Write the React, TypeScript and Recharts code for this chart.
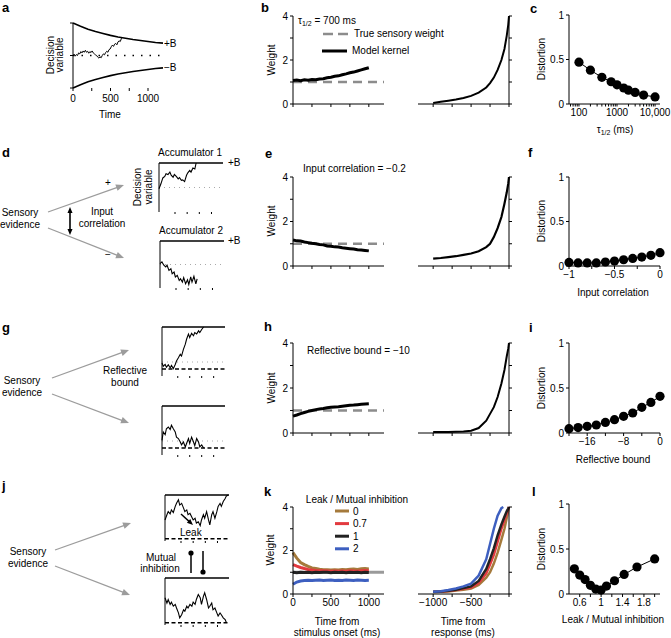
import React from 'react';
import { LineChart, Line, XAxis, YAxis, ReferenceLine } from 'recharts';

const FONT = '"Liberation Sans", Arial, Helvetica, sans-serif';
const FS = 10;

// ---------- Panel a ----------
const aTime = [0, 15, 30, 45, 60, 75, 90, 105, 120, 135, 150, 165, 180, 195, 210, 225, 240, 255, 270, 285, 300, 315, 330, 345, 360, 375, 390, 405, 420, 435, 450, 465, 480, 495, 510, 525, 540, 555, 570, 585, 600, 615, 630, 645, 655];
const aDV = [0, 0.04, -0.02, 0.03, 0.0, 0.08, 0.05, 0.12, 0.08, 0.14, 0.1, 0.16, 0.1, 0.13, 0.07, 0.12, 0.09, 0.14, 0.08, 0.05, 0.02, 0.0, -0.05, -0.08, -0.04, -0.07, 0.0, 0.05, 0.02, 0.09, 0.13, 0.1, 0.18, 0.2, 0.27, 0.32, 0.28, 0.35, 0.37, 0.33, 0.42, 0.45, 0.43, 0.52, 0.55];
const boundTime = [0, 100, 200, 300, 400, 500, 600, 700, 800, 900, 1000, 1100, 1200];
const boundUpper = [1, 0.9, 0.81, 0.74, 0.68, 0.62, 0.57, 0.53, 0.49, 0.46, 0.43, 0.4, 0.38];
const boundLower = [-1, -0.9, -0.81, -0.74, -0.68, -0.62, -0.57, -0.53, -0.49, -0.46, -0.43, -0.4, -0.38];

// ---------- Kernels (b, e, h, k) ----------
const stimT = [0, 50, 100, 150, 200, 250, 300, 350, 400, 450, 500, 550, 600, 650, 700, 750, 800, 850, 900, 950, 1000];
const respT = [-1000, -900, -800, -700, -600, -500, -400, -300, -250, -200, -150, -100, -60, -30, -10, 0];

const bStim = [1.07, 1.09, 1.06, 1.1, 1.08, 1.11, 1.1, 1.14, 1.15, 1.19, 1.22, 1.26, 1.28, 1.33, 1.37, 1.42, 1.45, 1.5, 1.55, 1.6, 1.65];
const bResp = [0.05, 0.1, 0.15, 0.2, 0.27, 0.37, 0.52, 0.75, 0.95, 1.2, 1.55, 2.0, 2.5, 3.1, 3.6, 4.0];

const eStim = [1.17, 1.13, 1.12, 1.08, 1.05, 1.02, 1.0, 0.97, 0.95, 0.9, 0.89, 0.86, 0.85, 0.82, 0.8, 0.78, 0.76, 0.73, 0.72, 0.7, 0.68];
const eResp = [0.33, 0.36, 0.4, 0.44, 0.5, 0.56, 0.66, 0.85, 1.0, 1.3, 1.7, 2.2, 2.8, 3.3, 3.7, 4.0];

const hStim = [0.75, 0.8, 0.86, 0.91, 0.96, 1.0, 1.04, 1.07, 1.09, 1.12, 1.14, 1.16, 1.17, 1.19, 1.21, 1.23, 1.24, 1.26, 1.28, 1.29, 1.3];
const hResp = [0.05, 0.05, 0.05, 0.06, 0.07, 0.1, 0.22, 0.55, 0.85, 1.15, 1.6, 2.2, 2.8, 3.4, 3.75, 4.0];

const leakLevels = ['0', '0.7', '1', '2'];
const leakColors = ['#a57a3c', '#e23a3f', '#222222', '#3d5fc0'];
const kStim0 = [1.9, 1.65, 1.45, 1.35, 1.27, 1.2, 1.17, 1.14, 1.12, 1.11, 1.1, 1.12, 1.1, 1.13, 1.12, 1.14, 1.15, 1.13, 1.16, 1.17, 1.15];
const kStim07 = [1.35, 1.28, 1.22, 1.17, 1.13, 1.1, 1.08, 1.07, 1.07, 1.06, 1.05, 1.06, 1.05, 1.06, 1.05, 1.07, 1.06, 1.05, 1.07, 1.08, 1.07];
const kStim1 = [1.0, 0.98, 1.0, 0.99, 1.0, 0.98, 1.0, 0.99, 1.0, 1.0, 0.98, 1.0, 0.99, 1.0, 0.98, 1.0, 0.99, 1.0, 0.98, 1.0, 0.99];
const kStim2 = [0.45, 0.55, 0.6, 0.62, 0.63, 0.62, 0.63, 0.64, 0.62, 0.63, 0.64, 0.62, 0.63, 0.62, 0.64, 0.63, 0.62, 0.64, 0.63, 0.62, 0.63];
const kResp0 = [0.08, 0.1, 0.12, 0.16, 0.2, 0.25, 0.42, 0.75, 1.0, 1.4, 1.9, 2.5, 3.0, 3.5, 3.85, 4.0];
const kResp07 = [0.1, 0.11, 0.14, 0.18, 0.24, 0.3, 0.5, 0.95, 1.35, 1.8, 2.4, 3.0, 3.4, 3.7, 3.9, 4.0];
const kResp1 = [0.1, 0.12, 0.15, 0.2, 0.27, 0.35, 0.6, 1.15, 1.6, 2.1, 2.7, 3.2, 3.55, 3.8, 3.93, 4.0];
const kRespT2 = [-1000, -900, -800, -700, -600, -500, -400, -300, -250, -200, -150, -100, -75];
const kResp2 = [0.1, 0.13, 0.18, 0.25, 0.35, 0.48, 0.85, 1.6, 2.3, 3.0, 3.6, 3.95, 4.0];

// ---------- Distortion panels ----------
const tauX = [100, 200, 400, 700, 1000, 1500, 2000, 3000, 5000, 10000];
const cDist = [0.47, 0.38, 0.3, 0.25, 0.215, 0.18, 0.155, 0.13, 0.1, 0.08];
const corrX = [-1, -0.9, -0.8, -0.7, -0.6, -0.5, -0.4, -0.3, -0.2, -0.1, 0];
const fDist = [0.04, 0.035, 0.035, 0.035, 0.045, 0.055, 0.07, 0.085, 0.1, 0.12, 0.15];
const reflX = [-20, -18, -16, -14, -12, -10, -8, -6, -4, -2, 0];
const iDist = [0.048, 0.06, 0.074, 0.089, 0.118, 0.148, 0.185, 0.222, 0.285, 0.34, 0.407];
const leakX = [0.5, 0.6, 0.7, 0.8, 0.9, 1, 1.1, 1.25, 1.43, 1.67, 2];
const lDist = [0.28, 0.21, 0.16, 0.096, 0.055, 0.044, 0.088, 0.147, 0.217, 0.3, 0.39];

// ---------- Schematic traces ----------
const dU = [0, 3, 6, 9, 11, 14, 17, 19, 22, 24, 27, 30, 32, 35, 37, 40, 43, 45, 48, 50, 53, 56, 58];
const d1Y = [-0.05, 0.15, 0.39, 0.45, 0.56, 0.53, 0.63, 0.5, 0.42, 0.53, 0.45, 0.35, 0.4, 0.29, 0.31, 0.24, 0.5, 0.6, 0.7, 0.63, 0.8, 0.76, 1.0];
const d2Y = [0.04, 0.11, -0.03, -0.1, -0.03, -0.25, -0.18, -0.39, -0.32, -0.53, -0.46, -0.68, -0.61, -0.75, -0.56, -0.82, -0.65, -0.85, -0.53, -0.75, -0.5, -0.82, -0.61];
const gU = [0, 2, 5, 7, 10, 13, 15, 18, 21, 23, 26, 29, 31, 34, 37, 39, 42, 44, 47, 50, 52, 55, 58, 60, 63, 66];
const g1Y = [-0.03, -0.12, -0.07, -0.15, -0.08, -0.17, -0.1, -0.19, -0.07, 0.03, 0.12, 0.22, 0.17, 0.36, 0.51, 0.65, 0.8, 0.7, 0.82, 0.75, 0.84, 0.8, 0.89, 0.84, 0.93, 1.0];
const g2Y = [0.02, 0.26, 0.18, 0.35, 0.4, 0.33, 0.45, 0.35, 0.26, 0.11, 0.07, -0.03, -0.11, -0.03, -0.17, -0.07, 0.07, -0.07, 0.11, -0.03, -0.13, 0.07, -0.03, -0.17, -0.11, -0.2];
const jU = [0, 3, 5, 8, 10, 13, 16, 18, 21, 23, 26, 29, 31, 34, 36, 39, 42, 44, 47, 49, 52, 55, 57, 60, 62, 65, 68, 70, 73, 75, 78, 81, 83, 86, 88, 91, 94, 96, 99];
const j1Y = [0.43, 0.55, 0.62, 0.57, 0.66, 0.6, 0.74, 0.81, 0.89, 0.77, 0.81, 0.7, 0.62, 0.66, 0.55, 0.58, 0.49, 0.43, 0.47, 0.36, 0.39, 0.3, 0.43, 0.55, 0.47, 0.62, 0.43, 0.32, 0.55, 0.62, 0.47, 0.62, 0.74, 0.81, 0.74, 0.85, 0.92, 0.98, 1.0];
const j2Y = [0.56, 0.44, 0.52, 0.41, 0.46, 0.37, 0.41, 0.33, 0.22, 0.11, 0.18, 0.29, 0.26, 0.37, 0.33, 0.41, 0.37, 0.46, 0.41, 0.52, 0.63, 0.56, 0.41, 0.59, 0.67, 0.52, 0.33, 0.37, 0.44, 0.29, 0.33, 0.22, 0.15, 0.22, 0.18, 0.11, 0.07, 0.0];

// ---------- helpers ----------
const pts = (xs: number[], ys: number[]) => xs.map((x, i) => ({ x, y: ys[i] }));
const ax = { stroke: '#000', strokeWidth: 1 };
const tk = { fontSize: FS, fill: '#000', fontFamily: FONT };
const blank = () => '';
const near = (a: number, b: number) => Math.abs(a - b) < 1e-6;

type R = { x0: number; y0: number; x1: number; y1: number };

function Plot({ r, l = 0, rt = 0, b = 0, ml = 0, mr = 0, mt = 6, mb = 0, children }: any) {
  const width = r.x1 - r.x0 + l + rt + ml + mr;
  const height = r.y1 - r.y0 + mt + b + mb;
  return (
    <div style={{ position: 'absolute', left: r.x0 - l - ml, top: r.y0 - mt }}>
      <LineChart width={width} height={height} margin={{ top: mt, right: mr, bottom: mb, left: ml }}>
        {children}
      </LineChart>
    </div>
  );
}

function kernelLeft(r: R, series: { ys: number[]; color: string; w: number }[], labels: boolean, ref: 'dash' | 'solid') {
  return (
    <Plot r={r} l={22} b={labels ? 16 : 4} mb={labels ? 0 : 6} mr={4}>
      <XAxis type="number" dataKey="x" domain={[0, 1200]} ticks={[0, 250, 500, 750, 1000]} interval={0} tickSize={3}
        tickLine={ax} axisLine={ax} tick={tk} height={labels ? 16 : 4}
        tickFormatter={labels ? (v: number) => (v % 500 === 0 ? String(v) : '') : blank} />
      <YAxis type="number" domain={[0, 4]} ticks={[0, 1, 2, 3, 4]} interval={0} tickSize={3} tickLine={ax} axisLine={ax}
        tick={tk} width={22} tickFormatter={(v: number) => (v % 2 === 0 ? String(v) : '')} />
      {ref === 'dash' ? (
        <ReferenceLine y={1} stroke="#8c8c8c" strokeWidth={2.5} strokeDasharray="9 6" />
      ) : (
        <ReferenceLine y={1} stroke="#9a9a9a" strokeWidth={3} />
      )}
      {series.map((s, i) => (
        <Line key={i} data={pts(stimT, s.ys)} dataKey="y" stroke={s.color} strokeWidth={s.w} dot={false} isAnimationActive={false} />
      ))}
    </Plot>
  );
}

function kernelRight(r: R, series: { xs: number[]; ys: number[]; color: string; w: number }[], labels: boolean) {
  return (
    <Plot r={r} rt={5} b={labels ? 16 : 4} mb={labels ? 0 : 6} ml={6}>
      <XAxis type="number" dataKey="x" domain={[-1200, 0]} ticks={[-1000, -750, -500, -250, 0]} interval={0} tickSize={3}
        tickLine={ax} axisLine={ax} tick={tk} height={labels ? 16 : 4}
        tickFormatter={labels ? (v: number) => (v === -1000 ? '\u22121000' : v === -500 ? '\u2212500' : '') : blank} />
      <YAxis type="number" orientation="right" domain={[0, 4]} ticks={[0, 1, 2, 3, 4]} interval={0} tickSize={3}
        tickLine={ax} axisLine={ax} tick={tk} width={5} tickFormatter={blank} />
      {series.map((s, i) => (
        <Line key={i} data={pts(s.xs, s.ys)} dataKey="y" stroke={s.color} strokeWidth={s.w} dot={false} isAnimationActive={false} />
      ))}
    </Plot>
  );
}

function distortion(r: R, xs: number[], ys: number[], xAxis: any) {
  return (
    <Plot r={r} l={22} b={16} mr={11}>
      {xAxis}
      <YAxis type="number" domain={[0, 1]} ticks={[0, 0.5, 1]} interval={0} tickSize={3} tickLine={ax} axisLine={ax}
        tick={tk} width={22} tickFormatter={(v: number) => String(v)} />
      <Line data={pts(xs, ys)} dataKey="y" stroke="#000" strokeWidth={1} isAnimationActive={false}
        dot={{ r: 4.6, fill: '#000', stroke: '#000', strokeWidth: 0 }} />
    </Plot>
  );
}

function mini(r: R, yDomain: number[], xs: number[], ys: number[], opts: { mid?: number; low?: number }) {
  return (
    <Plot r={r} l={1} b={3} mr={2} mt={2}>
      <XAxis type="number" dataKey="x" domain={[0, 100]} ticks={[25, 44, 63, 82]} interval={0} axisLine={false}
        tickSize={2} tickLine={ax} tickFormatter={blank} height={3} />
      <YAxis type="number" domain={yDomain} axisLine={ax} tick={false} tickLine={false} width={1} />
      <ReferenceLine y={1} stroke="#000" strokeWidth={1.7} />
      {opts.mid !== undefined && <ReferenceLine y={opts.mid} stroke="#aaa" strokeWidth={1} strokeDasharray="1 4" />}
      {opts.low !== undefined && <ReferenceLine y={opts.low} stroke="#000" strokeWidth={1.6} strokeDasharray="4 2.5" />}
      <Line data={pts(xs, ys)} dataKey="y" stroke="#000" strokeWidth={1.1} dot={false} isAnimationActive={false} />
    </Plot>
  );
}

function Arrow({ x1, y1, x2, y2, color = '#9c9c9c', w = 1.3, head = 8, both = false }: any) {
  const a = Math.atan2(y2 - y1, x2 - x1);
  const hw = head * 0.42;
  const tri = (x: number, y: number, ang: number) => {
    const bx = x - head * Math.cos(ang);
    const by = y - head * Math.sin(ang);
    return `${x},${y} ${bx + hw * Math.sin(ang)},${by - hw * Math.cos(ang)} ${bx - hw * Math.sin(ang)},${by + hw * Math.cos(ang)}`;
  };
  const sx = both ? x1 + (head - 1) * Math.cos(a) : x1;
  const sy = both ? y1 + (head - 1) * Math.sin(a) : y1;
  const ex = x2 - (head - 1) * Math.cos(a);
  const ey = y2 - (head - 1) * Math.sin(a);
  return (
    <g>
      <line x1={sx} y1={sy} x2={ex} y2={ey} stroke={color} strokeWidth={w} />
      <polygon points={tri(x2, y2, a)} fill={color} />
      {both && <polygon points={tri(x1, y1, a + Math.PI)} fill={color} />}
    </g>
  );
}

function T({ x, y, children, anchor = 'start', size = FS, bold = false }: any) {
  return (
    <text x={x} y={y} textAnchor={anchor} fontSize={size} fontWeight={bold ? 700 : 400} fontFamily={FONT} fill="#000">
      {children}
    </text>
  );
}
function RT({ x, y, children, size = FS }: any) {
  return (
    <text transform={`translate(${x},${y}) rotate(-90)`} textAnchor="middle" fontSize={size} fontFamily={FONT} fill="#000">
      {children}
    </text>
  );
}

export default function App() {
  const A: R = { x0: 73, y0: 23, x1: 163, y1: 88 };
  const colL = (y0: number, y1: number): R => ({ x0: 293, y0, x1: 384, y1 });
  const colR = (y0: number, y1: number): R => ({ x0: 418, y0, x1: 509, y1 });
  const col3 = (y0: number, y1: number): R => ({ x0: 569, y0, x1: 660, y1 });

  const cTicks = [60, 70, 80, 90, 100, 200, 300, 400, 500, 600, 700, 800, 900, 1000, 2000, 3000, 4000, 5000, 6000, 7000, 8000, 9000, 10000];

  return (
    <div style={{ position: 'absolute', left: 0, top: 0, width: 671, height: 638, background: '#fff', overflow: 'hidden', fontFamily: FONT }}>
      {/* Panel a */}
      <Plot r={A} l={4} b={16} mr={4}>
        <XAxis type="number" dataKey="x" domain={[0, 1200]} ticks={[0, 250, 500, 750, 1000]} interval={0} axisLine={false}
          tickSize={3} tickMargin={4} tickLine={ax} tick={tk} height={16}
          tickFormatter={(v: number) => (v % 500 === 0 ? String(v) : '')} />
        <YAxis type="number" domain={[-1, 1]} ticks={[-1, 0, 1]} interval={0} tickSize={3} tickLine={ax} axisLine={ax}
          tick={tk} width={4} tickFormatter={blank} />
        <ReferenceLine y={0} stroke="#000" strokeWidth={1.4} strokeDasharray="1.5 7" />
        <Line data={pts(boundTime, boundUpper)} dataKey="y" stroke="#000" strokeWidth={1.6} dot={false} isAnimationActive={false} />
        <Line data={pts(boundTime, boundLower)} dataKey="y" stroke="#000" strokeWidth={1.6} dot={false} isAnimationActive={false} />
        <Line data={pts(aTime, aDV)} dataKey="y" stroke="#000" strokeWidth={1} dot={false} isAnimationActive={false} />
      </Plot>

      {/* Panel b */}
      {kernelLeft(colL(16, 104), [{ ys: bStim, color: '#000', w: 3 }], false, 'dash')}
      {kernelRight(colR(16, 104), [{ xs: respT, ys: bResp, color: '#000', w: 2 }], false)}

      {/* Panel c */}
      {distortion(col3(15, 104), tauX, cDist,
        <XAxis type="number" dataKey="x" scale="log" domain={[54.7, 13490]} allowDataOverflow ticks={cTicks} interval={0}
          tickSize={2.5} tickLine={ax} axisLine={ax} tick={tk} height={16}
          tickFormatter={(v: number) => (v === 100 ? '100' : v === 1000 ? '1000' : v === 10000 ? '10,000' : '')} />)}

      {/* Panel d minis */}
      {mini({ x0: 159, y0: 163, x1: 223, y1: 212 }, [-1, 1], dU, d1Y, { mid: 0 })}
      {mini({ x0: 160, y0: 241, x1: 224, y1: 288 }, [-1, 1], dU, d2Y, { mid: 0 })}

      {/* Panel e */}
      {kernelLeft(colL(177, 266), [{ ys: eStim, color: '#000', w: 3 }], false, 'dash')}
      {kernelRight(colR(177, 266), [{ xs: respT, ys: eResp, color: '#000', w: 2.2 }], false)}

      {/* Panel f */}
      {distortion(col3(177, 266), corrX, fDist,
        <XAxis type="number" dataKey="x" domain={[-1, 0]} ticks={[-1, -0.75, -0.5, -0.25, 0]} interval={0}
          tickSize={3} tickLine={ax} axisLine={ax} tick={tk} height={16}
          tickFormatter={(v: number) => (near(v, -1) ? '\u22121' : near(v, -0.5) ? '\u22120.5' : near(v, 0) ? '0' : '')} />)}

      {/* Panel g minis */}
      {mini({ x0: 162, y0: 327, x1: 225, y1: 376 }, [-0.4, 1], gU, g1Y, { mid: 0, low: -0.2 })}
      {mini({ x0: 162, y0: 406, x1: 225, y1: 455 }, [-0.4, 1], gU, g2Y, { mid: 0, low: -0.2 })}

      {/* Panel h */}
      {kernelLeft(colL(343, 433), [{ ys: hStim, color: '#000', w: 3 }], false, 'dash')}
      {kernelRight(colR(343, 433), [{ xs: respT, ys: hResp, color: '#000', w: 2 }], false)}

      {/* Panel i */}
      {distortion(col3(343, 433), reflX, iDist,
        <XAxis type="number" dataKey="x" domain={[-20, 0]} ticks={[-20, -16, -12, -8, -4, 0]} interval={0}
          tickSize={3} tickLine={ax} axisLine={ax} tick={tk} height={16}
          tickFormatter={(v: number) => (v === -16 ? '\u221216' : v === -8 ? '\u22128' : v === 0 ? '0' : '')} />)}

      {/* Panel j minis */}
      {mini({ x0: 165, y0: 495, x1: 229, y1: 541 }, [-0.05, 1], jU, j1Y, { low: 0 })}
      {mini({ x0: 165, y0: 578, x1: 229, y1: 625 }, [-0.05, 1], jU.slice(0, j2Y.length), j2Y, { low: 0 })}

      {/* Panel k */}
      {kernelLeft(colL(507, 594), [
        { ys: kStim0, color: leakColors[0], w: 3 },
        { ys: kStim07, color: leakColors[1], w: 3 },
        { ys: kStim1, color: leakColors[2], w: 3 },
        { ys: kStim2, color: leakColors[3], w: 3 },
      ], true, 'solid')}
      {kernelRight(colR(507, 594), [
        { xs: respT, ys: kResp0, color: leakColors[0], w: 2.5 },
        { xs: respT, ys: kResp07, color: leakColors[1], w: 2.5 },
        { xs: respT, ys: kResp1, color: leakColors[2], w: 2.5 },
        { xs: kRespT2, ys: kResp2, color: leakColors[3], w: 2.5 },
      ], true)}

      {/* Panel l */}
      {distortion(col3(504, 594), leakX, lDist,
        <XAxis type="number" dataKey="x" domain={[0.4, 2.1]} ticks={[0.6, 0.8, 1.0, 1.2, 1.4, 1.6, 1.8, 2.0]} interval={0}
          tickSize={3} tickLine={ax} axisLine={ax} tick={tk} height={16}
          tickFormatter={(v: number) => (near(v, 0.6) ? '0.6' : near(v, 1) ? '1' : near(v, 1.4) ? '1.4' : near(v, 1.8) ? '1.8' : '')} />)}

      {/* Overlay: text & schematic */}
      <svg width={671} height={638} style={{ position: 'absolute', left: 0, top: 0, pointerEvents: 'none' }}>
        {/* panel letters */}
        <T x={2} y={12} size={13} bold>a</T>
        <T x={261} y={12} size={13} bold>b</T>
        <T x={530} y={13} size={13} bold>c</T>
        <T x={2} y={157} size={13} bold>d</T>
        <T x={265} y={158} size={13} bold>e</T>
        <T x={528} y={157} size={13} bold>f</T>
        <T x={2} y={332} size={13} bold>g</T>
        <T x={264} y={331} size={13} bold>h</T>
        <T x={529} y={332} size={13} bold>i</T>
        <T x={2} y={490} size={13} bold>j</T>
        <T x={264} y={496} size={13} bold>k</T>
        <T x={532} y={496} size={13} bold>l</T>

        {/* a */}
        <RT x={54} y={55}>Decision</RT>
        <RT x={63} y={55}>variable</RT>
        <T x={164} y={47}>+B</T>
        <T x={164} y={71}>{'\u2212B'}</T>
        <T x={110} y={118} anchor="middle">Time</T>

        {/* b */}
        <text x={298} y={24} fontSize={FS} fontFamily={FONT} fill="#000">
          {'\u03c4'}<tspan fontSize={7} dy={2}>1/2</tspan><tspan dy={-2}>{' = 700 ms'}</tspan>
        </text>
        <line x1={323} y1={34} x2={333} y2={34} stroke="#8c8c8c" strokeWidth={2.5} />
        <line x1={338} y1={34} x2={348} y2={34} stroke="#8c8c8c" strokeWidth={2.5} />
        <T x={354} y={37}>True sensory weight</T>
        <line x1={322} y1={51} x2={347} y2={51} stroke="#000" strokeWidth={3} />
        <T x={352} y={54}>Model kernel</T>
        <RT x={275} y={60}>Weight</RT>

        {/* c */}
        <RT x={545} y={59}>Distortion</RT>
        <text x={615} y={133} textAnchor="middle" fontSize={FS} fontFamily={FONT} fill="#000">
          {'\u03c4'}<tspan fontSize={7} dy={2}>1/2</tspan><tspan dy={-2}>{' (ms)'}</tspan>
        </text>

        {/* d */}
        <T x={20} y={216} anchor="middle">Sensory</T>
        <T x={20} y={228} anchor="middle">evidence</T>
        <Arrow x1={48} y1={212} x2={124} y2={185} />
        <Arrow x1={48} y1={228} x2={124} y2={258} />
        <T x={108} y={186} anchor="middle">+</T>
        <T x={108} y={258} anchor="middle">{'\u2212'}</T>
        <Arrow x1={70} y1={207} x2={70} y2={235} color="#000" w={1.6} head={6} both />
        <T x={102} y={215} anchor="middle">Input</T>
        <T x={102} y={227} anchor="middle">correlation</T>
        <T x={190} y={156} anchor="middle">Accumulator 1</T>
        <T x={228} y={166}>+B</T>
        <RT x={141} y={187}>Decision</RT>
        <RT x={152} y={187}>variable</RT>
        <T x={191} y={234} anchor="middle">Accumulator 2</T>
        <T x={228} y={244}>+B</T>

        {/* e */}
        <RT x={275} y={221}>Weight</RT>
        <T x={303} y={172}>{'Input correlation = \u22120.2'}</T>

        {/* f */}
        <RT x={545} y={221}>Distortion</RT>
        <T x={613} y={296} anchor="middle">Input correlation</T>

        {/* g */}
        <T x={22} y={384} anchor="middle">Sensory</T>
        <T x={22} y={396} anchor="middle">evidence</T>
        <Arrow x1={52} y1={378} x2={129} y2={350} />
        <Arrow x1={52} y1={394} x2={129} y2={423} />
        <T x={125} y={374} anchor="middle">Reflective</T>
        <T x={125} y={386} anchor="middle">bound</T>

        {/* h */}
        <RT x={275} y={388}>Weight</RT>
        <T x={307} y={354}>{'Reflective bound = \u221210'}</T>

        {/* i */}
        <RT x={545} y={388}>Distortion</RT>
        <T x={613} y={463} anchor="middle">Reflective bound</T>

        {/* j */}
        <T x={28} y={555} anchor="middle">Sensory</T>
        <T x={28} y={567} anchor="middle">evidence</T>
        <Arrow x1={55} y1={550} x2={131} y2={523} />
        <Arrow x1={55} y1={566} x2={130} y2={595} />
        <Arrow x1={181} y1={514} x2={193} y2={525} color="#000" w={1.4} head={6} />
        <T x={180} y={536}>Leak</T>
        <T x={161} y={561} anchor="middle">Mutual</T>
        <T x={160} y={572} anchor="middle">inhibition</T>
        <line x1={191} y1={553} x2={191} y2={573} stroke="#000" strokeWidth={1.5} />
        <circle cx={191} cy={553} r={2.6} fill="#000" />
        <line x1={203} y1={551} x2={203} y2={572} stroke="#000" strokeWidth={1.5} />
        <circle cx={203} cy={572} r={2.6} fill="#000" />

        {/* k */}
        <RT x={274} y={550}>Weight</RT>
        <T x={357} y={503} anchor="middle">Leak / Mutual inhibition</T>
        {leakLevels.map((lv, i) => (
          <g key={lv}>
            <line x1={335} y1={511 + i * 12.6} x2={349} y2={511 + i * 12.6} stroke={leakColors[i]} strokeWidth={3} />
            <T x={353} y={514.5 + i * 12.6}>{lv}</T>
          </g>
        ))}
        <T x={337} y={625} anchor="middle">Time from</T>
        <T x={337} y={636} anchor="middle">stimulus onset (ms)</T>
        <T x={463} y={625} anchor="middle">Time from</T>
        <T x={463} y={636} anchor="middle">response (ms)</T>

        {/* l */}
        <RT x={545} y={549}>Distortion</RT>
        <T x={613} y={623} anchor="middle">Leak / Mutual inhibition</T>
      </svg>
    </div>
  );
}
